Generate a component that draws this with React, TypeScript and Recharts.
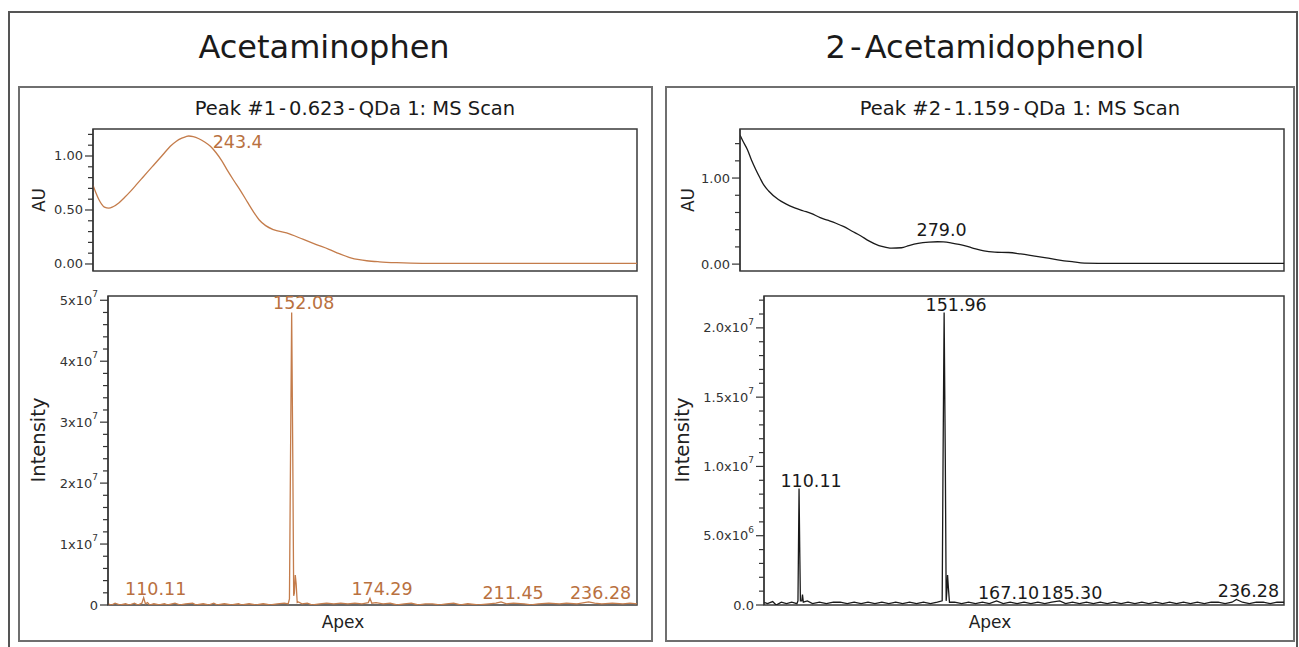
import React from 'react';
import { LineChart, Line, XAxis, YAxis, ReferenceArea, ReferenceDot } from 'recharts';

const FONT = '"DejaVu Sans", Verdana, sans-serif';
const ORANGE = '#C47C4B';
const ORANGE_TEXT = '#B9713F';
const BLACK = '#1a1a1a';

// ---------- Acetaminophen UV (nm / AU) ----------
const acetUvNm = [210, 211, 212, 213, 214, 215.5, 217, 219, 221, 223, 225, 227, 229, 231, 233, 235, 237, 239, 241, 242.5, 243.4, 245, 247, 249, 251, 253, 255, 257, 259, 261.5, 264, 266, 268, 270.3, 273, 277.6, 283.5, 288, 292.4, 296, 299.7, 303, 305.6, 310, 316, 325, 350, 375, 400];
const acetUvAu = [0.73, 0.66, 0.6, 0.555, 0.527, 0.517, 0.53, 0.565, 0.615, 0.67, 0.73, 0.79, 0.85, 0.91, 0.97, 1.03, 1.09, 1.135, 1.165, 1.18, 1.185, 1.18, 1.16, 1.13, 1.09, 1.03, 0.955, 0.864, 0.78, 0.68, 0.57, 0.485, 0.41, 0.355, 0.318, 0.288, 0.227, 0.18, 0.136, 0.095, 0.06, 0.04, 0.03, 0.02, 0.012, 0.006, 0.005, 0.005, 0.005];

// ---------- 2-Acetamidophenol UV ----------
const apUvNm = [210, 211, 212.6, 214, 215.5, 217, 218.3, 220, 223.4, 226, 229.1, 232, 234.8, 238, 240.6, 243.5, 246.3, 249, 252.1, 255, 258.5, 261, 263, 266.4, 269, 272.2, 276, 279, 281, 284, 286.5, 291, 295.2, 299, 303.8, 308, 312.4, 317, 321, 326, 330.3, 340, 360, 400];
const apUvAu = [1.5, 1.43, 1.33, 1.21, 1.1, 1.0, 0.92, 0.85, 0.75, 0.7, 0.654, 0.62, 0.59, 0.54, 0.51, 0.475, 0.435, 0.385, 0.33, 0.27, 0.215, 0.195, 0.185, 0.19, 0.215, 0.24, 0.255, 0.26, 0.258, 0.245, 0.23, 0.19, 0.154, 0.14, 0.135, 0.118, 0.096, 0.072, 0.05, 0.028, 0.012, 0.008, 0.008, 0.008];

// ---------- Acetaminophen MS (m/z / intensity) ----------
const acetMsMz = [100, 101, 102, 103.5, 105, 106, 107.5, 108.5, 109.6, 110.11, 110.6, 111.2, 111.8, 113, 114.5, 116, 117, 119, 120.5, 122, 124, 125, 127, 128.5, 130, 131, 133, 135, 137, 138, 140, 142, 144, 146, 148, 150, 151.1, 151.45, 151.75, 152.08, 152.4, 152.65, 152.85, 153.1, 153.35, 153.65, 154, 155, 156.5, 158, 160, 162, 164, 166, 168, 170, 172, 173.8, 174.29, 174.8, 176, 178, 180, 182, 184, 186, 188, 190, 192, 194, 196, 198, 200, 202, 205, 208, 210, 211.45, 213, 215, 218, 220, 222, 225, 228, 230, 233, 236.28, 238, 240, 243, 246, 248, 250];
const acetMsInt = [2e5, 0, 3e5, 0, 2e5, 0, 3e5, 0, 3e5, 1.2e6, 2e5, 4e5, 0, 2e5, 0, 2e5, 0, 3e5, 0, 2e5, 3e5, 0, 2e5, 0, 3e5, 0, 2e5, 0, 2e5, 0, 2e5, 0, 2e5, 0, 2e5, 3e5, 2e5, 1e6, 2.4e7, 4.8e7, 2.4e7, 1.5e6, 2e6, 4.9e6, 3.5e6, 4e5, 5e5, 2e5, 3e5, 0, 2e5, 3e5, 2e5, 3e5, 2e5, 3e5, 2e5, 4e5, 1.1e6, 3e5, 4e5, 2e5, 3e5, 0, 2e5, 3e5, 0, 2e5, 2e5, 0, 2e5, 3e5, 0, 2e5, 0, 2e5, 3e5, 5e5, 2e5, 3e5, 2e5, 0, 2e5, 3e5, 2e5, 3e5, 2e5, 5e5, 3e5, 2e5, 3e5, 2e5, 3e5, 2e5];

// ---------- 2-Acetamidophenol MS ----------
const apMsMz = [100, 101, 102.5, 103.5, 105, 106.5, 108, 109.5, 109.8, 109.95, 110.11, 110.3, 110.5, 110.9, 111.1, 111.35, 112.5, 114, 116, 118, 120, 122, 124, 126, 128, 130, 132, 134, 136, 138, 140, 142, 144, 146, 148, 150, 151.4, 151.65, 151.96, 152.3, 152.55, 152.75, 152.95, 153.2, 153.5, 155, 157, 159, 161, 163, 165, 167.1, 169, 171, 173, 175, 177, 179, 181, 183, 185.3, 187, 189, 191, 193, 195, 197, 199, 201, 203, 205, 207, 209, 211, 213, 215, 217, 219, 221, 223, 225, 227, 229, 231, 233, 235, 236.28, 238, 240, 242, 244, 246, 248, 250];
const apMsInt = [2e5, 1e5, 2.5e5, 0, 2e5, 1e5, 2e5, 1e5, 3e5, 4.2e6, 8.4e6, 4.2e6, 3e5, 3e5, 7.5e5, 2e5, 3e5, 1e5, 2e5, 1e5, 2e5, 2e5, 1e5, 2e5, 1e5, 2e5, 1e5, 2e5, 1e5, 2e5, 1e5, 2e5, 1e5, 2e5, 1e5, 2e5, 3e5, 1.05e7, 2.11e7, 1.05e7, 3e5, 1e6, 2.16e6, 1.2e6, 2e5, 2e5, 1e5, 2e5, 1e5, 2e5, 1e5, 3e5, 1e5, 2e5, 1e5, 2e5, 1e5, 2e5, 1e5, 2e5, 3e5, 1e5, 2e5, 1e5, 2e5, 1e5, 2e5, 1e5, 2e5, 1e5, 2e5, 1e5, 2e5, 1e5, 2e5, 1e5, 2e5, 1e5, 2e5, 1e5, 2e5, 1e5, 2e5, 2e5, 1e5, 2e5, 4e5, 2e5, 1e5, 2e5, 2e5, 1e5, 2e5, 2e5];

// ---------- peak annotations ----------
const acetMsLabelMz = [110.11, 152.08, 174.29, 211.45, 236.28];
const acetMsLabelInt = [1.2e6, 4.8e7, 1.1e6, 5e5, 5e5];
const apMsLabelMz = [110.11, 151.96, 167.1, 185.3, 236.28];
const apMsLabelInt = [8.4e6, 2.11e7, 3e5, 3e5, 4e5];
const acetUvPeak = [243.4, 1.185];
const apUvPeak = [279.0, 0.26];

// ---------- axes ----------
const acetUvDomain = [-0.065, 1.25];
const acetUvTicks = [0, 0.1, 0.2, 0.3, 0.4, 0.5, 0.6, 0.7, 0.8, 0.9, 1.0, 1.1, 1.2];
const acetUvTickLabels: [number, string, string?][] = [[0, '0.00'], [0.5, '0.50'], [1.0, '1.00']];
const apUvDomain = [-0.08, 1.57];
const apUvTicks = [0, 0.2, 0.4, 0.6, 0.8, 1.0, 1.2, 1.4];
const apUvTickLabels: [number, string, string?][] = [[0, '0.00'], [1.0, '1.00']];
const acetMsDomain = [0, 5.07e7];
const acetMsTicks = [0, 2e6, 4e6, 6e6, 8e6, 1e7, 1.2e7, 1.4e7, 1.6e7, 1.8e7, 2e7, 2.2e7, 2.4e7, 2.6e7, 2.8e7, 3e7, 3.2e7, 3.4e7, 3.6e7, 3.8e7, 4e7, 4.2e7, 4.4e7, 4.6e7, 4.8e7, 5e7];
const acetMsTickLabels: [number, string, string?][] = [[0, '0'], [1e7, '1x10', '7'], [2e7, '2x10', '7'], [3e7, '3x10', '7'], [4e7, '4x10', '7'], [5e7, '5x10', '7']];
const apMsDomain = [0, 2.23e7];
const apMsTicks = [0, 1e6, 2e6, 3e6, 4e6, 5e6, 6e6, 7e6, 8e6, 9e6, 1e7, 1.1e7, 1.2e7, 1.3e7, 1.4e7, 1.5e7, 1.6e7, 1.7e7, 1.8e7, 1.9e7, 2e7, 2.1e7, 2.2e7];
const apMsTickLabels: [number, string, string?][] = [[0, '0.0'], [5e6, '5.0x10', '6'], [1e7, '1.0x10', '7'], [1.5e7, '1.5x10', '7'], [2e7, '2.0x10', '7']];
const uvRange = [210, 400];
const msRange = [100, 250];

const zip = (xs: number[], ys: number[]) => xs.map((x, i) => ({ x, y: ys[i] }));

function makeTick(labels: [number, string, string?][]) {
  return (props: any) => {
    const { x, y, payload } = props;
    const v = payload.value;
    const lab = labels.find((l) => Math.abs(l[0] - v) <= 1e-6 * Math.max(1, Math.abs(v)));
    const len = lab ? 8 : 5;
    return (
      <g>
        <line x1={x - len} x2={x} y1={y} y2={y} stroke="#333" strokeWidth={1.2} />
        {lab && (
          <text x={x - 10} y={y} textAnchor="end" dominantBaseline="central" fontSize={13} fill="#333" fontFamily={FONT}>
            {lab[1]}
            {lab[2] && (
              <tspan dy={-6} fontSize={9}>
                {lab[2]}
              </tspan>
            )}
          </text>
        )}
      </g>
    );
  };
}

const textLabel = (text: string, color: string, dx: number, dy: number, anchor: string = 'middle') => (props: any) => {
  const vb = props.viewBox || {};
  const cx = (vb.x ?? 0) + (vb.width ?? 0) / 2;
  const cy = (vb.y ?? 0) + (vb.height ?? 0) / 2;
  return (
    <text x={cx + dx} y={cy + dy} textAnchor={anchor} dominantBaseline="central" fontSize={17.5} fill={color} fontFamily={FONT}>
      {text}
    </text>
  );
};

const axisTitle = (text: string, x: number, y: number, rotate: boolean, size: number) => () => (
  <text
    x={x}
    y={y}
    textAnchor="middle"
    dominantBaseline="central"
    fontSize={size}
    fill="#222"
    fontFamily={FONT}
    transform={rotate ? `rotate(-90 ${x} ${y})` : undefined}
  >
    {text}
  </text>
);

type PanelProps = {
  left: number;
  top: number;
  width: number;
  height: number;
  margin: { top: number; right: number; bottom: number; left: number };
  data: { x: number; y: number }[];
  xDomain: number[];
  yDomain: number[];
  ticks: number[];
  tickLabels: [number, string, string?][];
  color: string;
  curve: 'monotone' | 'linear';
  yTitle: string;
  yTitlePos: [number, number];
  xTitlePos?: [number, number];
  labels: { x: number; y: number; text: string; dx: number; dy: number; anchor?: string }[];
  labelColor: string;
};

function Panel(p: PanelProps) {
  return (
    <div style={{ position: 'absolute', left: p.left, top: p.top }}>
      <LineChart width={p.width} height={p.height} data={p.data} margin={p.margin}>
        <XAxis
          dataKey="x"
          type="number"
          domain={p.xDomain}
          allowDataOverflow
          hide={!p.xTitlePos}
          tick={false}
          tickLine={false}
          axisLine={false}
          height={p.xTitlePos ? 35 : 0}
          label={p.xTitlePos ? axisTitle('Apex', p.xTitlePos[0], p.xTitlePos[1], false, 17) : undefined}
        />
        <YAxis
          type="number"
          domain={p.yDomain}
          allowDataOverflow
          ticks={p.ticks}
          interval={0}
          width={60}
          tickSize={0}
          tickMargin={0}
          tickLine={false}
          axisLine={{ stroke: '#333', strokeWidth: 1.2 }}
          tick={makeTick(p.tickLabels)}
          label={axisTitle(p.yTitle, p.yTitlePos[0], p.yTitlePos[1], true, p.yTitle === 'AU' ? 17 : 19.5)}
        />
        <ReferenceArea
          x1={p.xDomain[0]}
          x2={p.xDomain[1]}
          y1={p.yDomain[0]}
          y2={p.yDomain[1]}
          fill="none"
          fillOpacity={0}
          stroke="#3a3a3a"
          strokeWidth={1.5}
          ifOverflow="visible"
        />
        <Line
          dataKey="y"
          type={p.curve}
          stroke={p.color}
          strokeWidth={1.3}
          dot={false}
          isAnimationActive={false}
        />
        {p.labels.map((l, i) => (
          <ReferenceDot
            key={i}
            x={l.x}
            y={l.y}
            r={0}
            fill="none"
            stroke="none"
            label={textLabel(l.text, p.labelColor, l.dx, l.dy, l.anchor)}
          />
        ))}
      </LineChart>
    </div>
  );
}

function Subtitle({ x, parts }: { x: number; parts: string[] }) {
  return (
    <text x={x} y={108} textAnchor="middle" dominantBaseline="central" fontSize={19.5} fill="#1a1a1a" fontFamily={FONT}>
      {parts.map((s, i) => (
        <tspan key={i} dx={i === 0 ? 0 : 3}>
          {s}
        </tspan>
      ))}
    </text>
  );
}

export default function App() {
  const acetMsLabels = acetMsLabelMz.map((m, i) => ({ x: m, y: acetMsLabelInt[i], text: m.toFixed(2), dx: 12, dy: -9 }));
  const apMsLabels = apMsLabelMz.map((m, i) => ({ x: m, y: apMsLabelInt[i], text: m.toFixed(2), dx: 12, dy: -8 }));
  return (
    <div
      style={{
        position: 'absolute',
        left: 0,
        top: 0,
        width: 1299,
        height: 647,
        overflow: 'hidden',
        background: '#fff',
        fontFamily: FONT,
      }}
    >
      <svg width={1299} height={647} style={{ position: 'absolute', left: 0, top: 0 }}>
        <rect x={9} y={12} width={1288} height={700} fill="none" stroke="#555" strokeWidth={2} />
        <rect x={19} y={87} width={633} height={554} fill="none" stroke="#6f6f6f" strokeWidth={2} />
        <rect x={666} y={87} width={628} height={554} fill="none" stroke="#6f6f6f" strokeWidth={2} />
        <text x={324} y={47} textAnchor="middle" dominantBaseline="central" fontSize={32} fill="#1a1a1a" fontFamily={FONT}>
          Acetaminophen
        </text>
        <text x={985} y={47} textAnchor="middle" dominantBaseline="central" fontSize={32} fill="#1a1a1a" fontFamily={FONT}>
          <tspan>2</tspan>
          <tspan dx={4}>-</tspan>
          <tspan dx={4}>Acetamidophenol</tspan>
        </text>
        <Subtitle x={355} parts={['Peak #1', '-', '0.623', '-', 'QDa 1: MS Scan']} />
        <Subtitle x={1020} parts={['Peak #2', '-', '1.159', '-', 'QDa 1: MS Scan']} />
      </svg>

      <Panel
        left={20}
        top={120}
        width={630}
        height={160}
        margin={{ top: 9, right: 13, bottom: 9, left: 13 }}
        data={zip(acetUvNm, acetUvAu)}
        xDomain={uvRange}
        yDomain={acetUvDomain}
        ticks={acetUvTicks}
        tickLabels={acetUvTickLabels}
        color={ORANGE}
        curve="monotone"
        yTitle="AU"
        yTitlePos={[19, 80]}
        labels={[{ x: acetUvPeak[0], y: acetUvPeak[1], text: acetUvPeak[0].toFixed(1), dx: 24, dy: 6, anchor: 'start' }]}
        labelColor={ORANGE_TEXT}
      />
      <Panel
        left={20}
        top={285}
        width={630}
        height={355}
        margin={{ top: 11, right: 13, bottom: 0, left: 28 }}
        data={zip(acetMsMz, acetMsInt)}
        xDomain={msRange}
        yDomain={acetMsDomain}
        ticks={acetMsTicks}
        tickLabels={acetMsTickLabels}
        color={ORANGE}
        curve="linear"
        yTitle="Intensity"
        yTitlePos={[18, 155]}
        xTitlePos={[323, 337]}
        labels={acetMsLabels}
        labelColor={ORANGE_TEXT}
      />
      <Panel
        left={668}
        top={120}
        width={625}
        height={160}
        margin={{ top: 9, right: 9, bottom: 9, left: 12 }}
        data={zip(apUvNm, apUvAu)}
        xDomain={uvRange}
        yDomain={apUvDomain}
        ticks={apUvTicks}
        tickLabels={apUvTickLabels}
        color={BLACK}
        curve="monotone"
        yTitle="AU"
        yTitlePos={[20, 80]}
        labels={[{ x: apUvPeak[0], y: apUvPeak[1], text: apUvPeak[0].toFixed(1), dx: 4, dy: -12 }]}
        labelColor={BLACK}
      />
      <Panel
        left={668}
        top={285}
        width={625}
        height={355}
        margin={{ top: 11, right: 9, bottom: 0, left: 36 }}
        data={zip(apMsMz, apMsInt)}
        xDomain={msRange}
        yDomain={apMsDomain}
        ticks={apMsTicks}
        tickLabels={apMsTickLabels}
        color={BLACK}
        curve="linear"
        yTitle="Intensity"
        yTitlePos={[14, 155]}
        xTitlePos={[322, 337]}
        labels={apMsLabels}
        labelColor={BLACK}
      />
    </div>
  );
}
